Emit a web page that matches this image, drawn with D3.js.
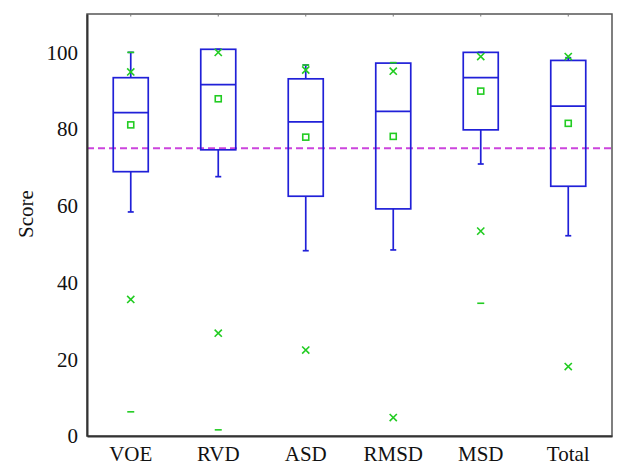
<!DOCTYPE html>
<html>
<head>
<meta charset="utf-8">
<script src="https://cdn.jsdelivr.net/npm/d3@7"></script>
<style>
  html, body { margin: 0; padding: 0; background: #fff; }
  svg { display: block; }
  text { font-family: "Liberation Serif", "DejaVu Serif", serif; fill: #111; }
</style>
</head>
<body>
<svg id="chart" width="626" height="475"></svg>
<script>
// ---- data ----
const categories   = ["VOE", "RVD", "ASD", "RMSD", "MSD", "Total"];
const q1           = [68.9, 74.6, 62.5, 59.2, 79.8, 65.1];
const median       = [84.3, 91.6, 81.9, 84.6, 93.4, 86.0];
const q3           = [93.4, 100.8, 93.1, 97.2, 100.0, 97.9];
const whiskerLow   = [58.4, 67.6, 48.3, 48.5, 70.9, 52.2];
const whiskerHigh  = [100.0, 100.8, 96.7, 97.3, 100.0, 98.6];
const means        = [81.1, 87.9, 77.9, 78.1, 89.9, 81.5];
const pctHigh      = [94.9, 100.0, 95.4, 95.1, 98.9, 98.9];
const pctLow       = [35.6, 26.8, 22.4, 4.8, 53.4, 18.1];
const minVals      = [6.3, 1.6, null, null, 34.6, null];
const maxVals      = [100.0, null, 96.7, 97.3, null, null];
const yTicks       = [0, 20, 40, 60, 80, 100];
const threshold    = 75;
const yTitle       = "Score";

// ---- layout ----
const svg = d3.select("#chart");
const m = { left: 87, right: 612, top: 14, bottom: 436 };
const blue = "#2020d8", green = "#22cc22", magenta = "#cc44dd";

const x = d3.scaleBand().domain(categories).range([m.left, m.right]).padding(0);
const y = d3.scaleLinear().domain([0, 110]).range([m.bottom, m.top]);
const bw = x.bandwidth() * 0.4;

const data = categories.map((c, i) => ({
  c, q1: q1[i], med: median[i], q3: q3[i], lo: whiskerLow[i], hi: whiskerHigh[i],
  mean: means[i], ph: pctHigh[i], pl: pctLow[i], mn: minVals[i], mx: maxVals[i]
}));
const cx = d => x(d.c) + x.bandwidth() / 2;

// frame (top & right)
svg.append("rect")
  .attr("x", m.left).attr("y", m.top)
  .attr("width", m.right - m.left).attr("height", m.bottom - m.top)
  .attr("fill", "none").attr("stroke", "#555").attr("stroke-width", 1.5);

// top tiny ticks
svg.append("g").selectAll("line").data(categories).join("line")
  .attr("x1", d => x(d) + x.bandwidth() / 2).attr("x2", d => x(d) + x.bandwidth() / 2)
  .attr("y1", m.top).attr("y2", m.top + 2.5)
  .attr("stroke", "#777").attr("stroke-width", 1);

// threshold line
svg.append("line")
  .attr("x1", m.left).attr("x2", m.right)
  .attr("y1", y(threshold)).attr("y2", y(threshold))
  .attr("stroke", magenta).attr("stroke-width", 1.8).attr("stroke-dasharray", "7,4");

const g = svg.append("g");
const sw = 1.7;
// whiskers
g.selectAll(".wl").data(data).join("line")
  .attr("x1", cx).attr("x2", cx).attr("y1", d => y(d.q1)).attr("y2", d => y(d.lo))
  .attr("stroke", blue).attr("stroke-width", sw);
g.selectAll(".wh").data(data).join("line")
  .attr("x1", cx).attr("x2", cx).attr("y1", d => y(d.q3)).attr("y2", d => y(d.hi))
  .attr("stroke", blue).attr("stroke-width", sw);
g.selectAll(".cl").data(data).join("line")
  .attr("x1", d => cx(d) - 3).attr("x2", d => cx(d) + 3).attr("y1", d => y(d.lo)).attr("y2", d => y(d.lo))
  .attr("stroke", blue).attr("stroke-width", sw);
g.selectAll(".ch").data(data).join("line")
  .attr("x1", d => cx(d) - 3).attr("x2", d => cx(d) + 3).attr("y1", d => y(d.hi)).attr("y2", d => y(d.hi))
  .attr("stroke", blue).attr("stroke-width", sw);
// boxes
g.selectAll(".box").data(data).join("rect")
  .attr("x", d => cx(d) - bw / 2).attr("width", bw)
  .attr("y", d => y(d.q3)).attr("height", d => y(d.q1) - y(d.q3))
  .attr("fill", "none").attr("stroke", blue).attr("stroke-width", sw);
g.selectAll(".med").data(data).join("line")
  .attr("x1", d => cx(d) - bw / 2).attr("x2", d => cx(d) + bw / 2)
  .attr("y1", d => y(d.med)).attr("y2", d => y(d.med))
  .attr("stroke", blue).attr("stroke-width", sw);

// means (squares)
g.selectAll(".mean").data(data).join("rect")
  .attr("x", d => cx(d) - 3).attr("y", d => y(d.mean) - 3)
  .attr("width", 6).attr("height", 6)
  .attr("fill", "none").attr("stroke", green).attr("stroke-width", 1.6);

// percentile crosses
const crossPts = [];
data.forEach(d => { crossPts.push({ d, v: d.ph }); crossPts.push({ d, v: d.pl }); });
const cross = "M-3.6,-3.6L3.6,3.6M-3.6,3.6L3.6,-3.6";
g.selectAll(".cross").data(crossPts).join("path")
  .attr("transform", p => `translate(${cx(p.d)},${y(p.v)})`)
  .attr("d", cross).attr("fill", "none").attr("stroke", green).attr("stroke-width", 1.6);

// min / max dashes
const dashPts = [];
data.forEach(d => { if (d.mn != null) dashPts.push({ d, v: d.mn }); if (d.mx != null) dashPts.push({ d, v: d.mx }); });
g.selectAll(".dash").data(dashPts).join("line")
  .attr("x1", p => cx(p.d) - 3.5).attr("x2", p => cx(p.d) + 3.5)
  .attr("y1", p => y(p.v)).attr("y2", p => y(p.v))
  .attr("stroke", green).attr("stroke-width", 1.6);

// axes
const yAxis = svg.append("g").attr("transform", `translate(${m.left},0)`)
  .call(d3.axisLeft(y).tickValues(yTicks).tickSize(0).tickPadding(9));
yAxis.select(".domain").attr("stroke", "#333").attr("stroke-width", 2);
yAxis.selectAll("text").style("font-size", "21px").attr("fill", "#111");

const xAxis = svg.append("g").attr("transform", `translate(0,${m.bottom})`)
  .call(d3.axisBottom(x).tickSize(0).tickPadding(10));
xAxis.select(".domain").attr("stroke", "#333").attr("stroke-width", 2);
xAxis.selectAll("text").style("font-size", "21px").attr("fill", "#111");

svg.append("text")
  .attr("transform", `translate(33,214) rotate(-90)`)
  .attr("text-anchor", "middle")
  .style("font-size", "21px")
  .text(yTitle);
</script>
</body>
</html>
